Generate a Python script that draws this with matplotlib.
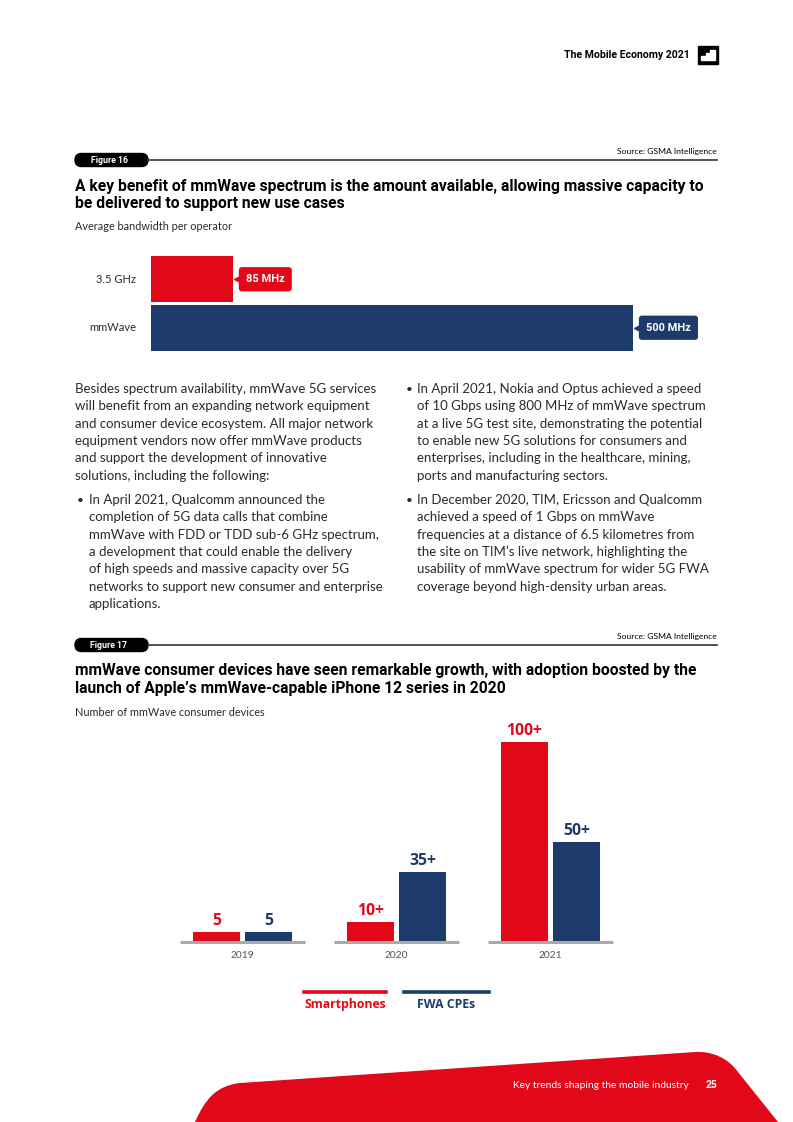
import matplotlib.pyplot as plt
import matplotlib.transforms as mtransforms
import numpy as np
from matplotlib.patches import FancyBboxPatch, Rectangle, PathPatch, Polygon
from matplotlib.path import Path
from matplotlib.lines import Line2D

# ---- data ----
band_labels = ['3.5 GHz', 'mmWave']
band_values = [85, 500]
band_text = ['85 MHz', '500 MHz']

years = ['2019', '2020', '2021']
smartphones = [5, 10, 100]
fwa_cpes = [5, 35, 50]
smart_text = ['5', '10+', '100+']
fwa_text = ['5', '35+', '50+']
series_names = ['Smartphones', 'FWA CPEs']

RED = '#E1081A'
NAVY = '#1C3B6A'
GREY = '#AAAAAA'
TXT = '#2a2a2a'

body_left = [
    'Besides spectrum availability, mmWave 5G services',
    'will benefit from an expanding network equipment',
    'and consumer device ecosystem. All major network',
    'equipment vendors now offer mmWave products',
    'and support the development of innovative',
    'solutions, including the following:',
]
bullet_left = [
    'In April 2021, Qualcomm announced the',
    'completion of 5G data calls that combine',
    'mmWave with FDD or TDD sub-6 GHz spectrum,',
    'a development that could enable the delivery',
    'of high speeds and massive capacity over 5G',
    'networks to support new consumer and enterprise',
    'applications.',
]
bullet_right1 = [
    'In April 2021, Nokia and Optus achieved a speed',
    'of 10 Gbps using 800 MHz of mmWave spectrum',
    'at a live 5G test site, demonstrating the potential',
    'to enable new 5G solutions for consumers and',
    'enterprises, including in the healthcare, mining,',
    'ports and manufacturing sectors.',
]
bullet_right2 = [
    'In December 2020, TIM, Ericsson and Qualcomm',
    'achieved a speed of 1 Gbps on mmWave',
    'frequencies at a distance of 6.5 kilometres from',
    'the site on TIM\u2019s live network, highlighting the',
    'usability of mmWave spectrum for wider 5G FWA',
    'coverage beyond high-density urban areas.',
]

W, H = 793, 1122
fig = plt.figure(figsize=(W / 100, H / 100), dpi=100)

# page layer in pixel coordinates
page = fig.add_axes([0, 0, 1, 1], zorder=0)
page.set_xlim(0, W)
page.set_ylim(H, 0)
page.axis('off')

BODY = dict(family='Lato', fontsize=9.5, color=TXT, va='center')
BOLD = dict(family='Roboto', fontweight='bold', color='black', va='center')
PLAIN = dict(family='Lato', color=TXT, va='center')

# header
page.text(690, 55, 'The Mobile Economy 2021', ha='right', fontsize=7.6, **BOLD)
page.add_patch(Rectangle((698, 46), 20, 18, color='black'))
page.add_patch(Polygon([(701, 60), (701, 56), (706, 56), (706, 53), (710, 53),
                        (710, 50), (715, 50), (715, 60)], color='white'))


def figure_tag(y, label):
    page.plot([148, 717], [y, y], color='#333333', lw=1.2)
    page.add_patch(FancyBboxPatch((75, y - 6.5), 73, 13,
                                  boxstyle='round,pad=0,rounding_size=6.5',
                                  color='black'))
    page.text(109, y + 0.5, label, ha='center', fontsize=6.3, **{**BOLD, 'color': 'white'})
    page.text(717, y - 9, 'Source: GSMA Intelligence', ha='right', fontsize=6.1,
              **{**PLAIN, 'color': 'black'})


# figure 16 header
figure_tag(160, 'Figure 16')
page.text(75, 186, 'A key benefit of mmWave spectrum is the amount available, allowing massive capacity to',
          fontsize=11.25, **BOLD)
page.text(75, 203, 'be delivered to support new use cases', fontsize=11.25, **BOLD)
page.text(75, 226, 'Average bandwidth per operator', fontsize=7.8, **PLAIN)

# ---- figure 16: horizontal bars ----
ax1 = fig.add_axes([151 / W, 1 - 352 / H, (717 - 151) / W, 97 / H], zorder=2)
ax1.barh(range(len(band_values)), band_values, height=0.95, color=[RED, NAVY])
ax1.set_xlim(0, (717 - 151) / 0.964)
ax1.set_ylim(1.5, -0.5)
ax1.axis('off')
shift = mtransforms.ScaledTranslation(4 / 100, 0, fig.dpi_scale_trans)
for i, (lab, v, t, c) in enumerate(zip(band_labels, band_values, band_text, [RED, NAVY])):
    ax1.annotate(lab, xy=(0, i), xytext=(-15, 0), textcoords='offset pixels',
                 ha='right', fontsize=8, **PLAIN)
    ax1.annotate(t, xy=(v, i), xytext=(13, 0), textcoords='offset pixels',
                 ha='left', va='center', family='Roboto', fontweight='bold',
                 fontsize=7.9, color='white',
                 bbox=dict(boxstyle='round,pad=0.65,rounding_size=0.3', fc=c, ec='none'))
    ax1.plot(v, i, marker='<', ms=4, color=c, linestyle='none', clip_on=False,
             transform=ax1.transData + shift)

# ---- body text ----
LS = 17.35
BUL = {**BODY, 'fontsize': 8.5}
for k, line in enumerate(body_left):
    page.text(75, 389 + k * LS, line, **BODY)
page.text(77, 500, '\u2022', **BUL)
for k, line in enumerate(bullet_left):
    page.text(89, 500 + k * LS, line, **BODY)
page.text(406, 389, '\u2022', **BUL)
for k, line in enumerate(bullet_right1):
    page.text(417, 389 + k * LS, line, **BODY)
page.text(406, 500, '\u2022', **BUL)
for k, line in enumerate(bullet_right2):
    page.text(417, 500 + k * LS, line, **BODY)

# figure 17 header
figure_tag(645, 'Figure 17')
page.text(75, 670, 'mmWave consumer devices have seen remarkable growth, with adoption boosted by the',
          fontsize=11.25, **BOLD)
page.text(75, 688, 'launch of Apple\u2019s mmWave-capable iPhone 12 series in 2020', fontsize=11.25, **BOLD)
page.text(75, 712, 'Number of mmWave consumer devices', fontsize=7.8, **PLAIN)

# ---- figure 17: grouped columns ----
ax2 = fig.add_axes([170 / W, 1 - 942 / H, (623 - 170) / W, 222 / H], zorder=2)
x = np.arange(len(years))
bw = 47 / 154
off = 26 / 154
ax2.bar(x - off, smartphones, width=bw, color=RED, label=series_names[0])
ax2.bar(x + off, fwa_cpes, width=bw, color=NAVY, label=series_names[1])
for g in x:
    ax2.plot([g - 0.406, g + 0.406], [0, 0], color=GREY, lw=2.2, solid_capstyle='butt',
             clip_on=False)
ax2.set_xlim(-0.471, 2.471)
ax2.set_ylim(0, 111)
ax2.axis('off')
for g, yr in zip(x, years):
    ax2.annotate(yr, xy=(g, 0), xytext=(0, -13), textcoords='offset pixels',
                 ha='center', fontsize=7.4, **{**PLAIN, 'color': '#555555'})
for vals, txts, sgn, c in [(smartphones, smart_text, -1, RED), (fwa_cpes, fwa_text, 1, NAVY)]:
    for g, v, t in zip(x, vals, txts):
        ax2.annotate(t, xy=(g + sgn * off, v), xytext=(0, 11), textcoords='offset pixels',
                     ha='center', va='center', family='Open Sans', fontweight='bold',
                     fontsize=11.3, color=c)

# legend
for name, c, x0, x1 in [(series_names[0], RED, 304, 386), (series_names[1], NAVY, 404, 489)]:
    page.add_line(Line2D([x0, x1], [992, 992], color=c, lw=2.6))
    page.text((x0 + x1) / 2, 1004, name, ha='center', va='center', family='Open Sans',
              fontweight='bold', fontsize=8.8, color=c)

# footer shape
verts = [(195, 1122), (205, 1100), (215, 1086), (240, 1083),
         (695, 1052), (712, 1051), (728, 1058), (738, 1072),
         (778, 1122), (195, 1122)]
codes = [Path.MOVETO, Path.CURVE4, Path.CURVE4, Path.CURVE4,
         Path.LINETO, Path.CURVE4, Path.CURVE4, Path.CURVE4,
         Path.LINETO, Path.CLOSEPOLY]
page.add_patch(PathPatch(Path(verts, codes), fc=RED, ec='none'))
page.text(689, 1085, 'Key trends shaping the mobile industry', ha='right', fontsize=7.4,
          **{**PLAIN, 'color': 'white'})
page.text(706, 1085, '25', ha='left', va='center', family='Roboto', fontweight='bold',
          fontsize=7.5, color='white')

fig.savefig('out.png', dpi=100)
